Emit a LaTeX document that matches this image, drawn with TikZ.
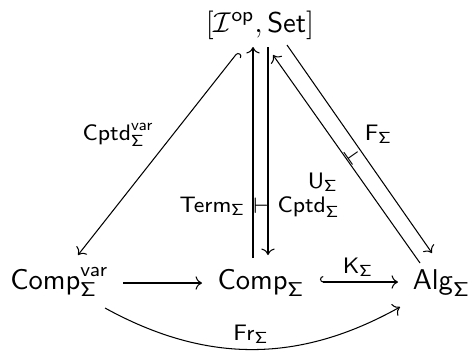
\documentclass[tikz,border=0pt]{standalone}
\usetikzlibrary{arrows.meta,calc}
\newcommand{\sfS}{\mathsf{\Sigma}}
\tikzset{
  obj/.style={anchor=base, inner sep=0pt, scale=1.1},
  lbl/.style={anchor=base, inner sep=0pt, font=\scriptsize, scale=1.23},
  arr/.style={-{Computer Modern Rightarrow}, line width=0.4pt},
  hk/.style={{Hooks[right]}-{Computer Modern Rightarrow}, line width=0.4pt},
}
\begin{document}
\begin{tikzpicture}[x=0.3846pt,y=-0.3846pt]
\useasboundingbox (0,0) rectangle (472,350);
% objects
\node[obj] (top) at (260,32) {$[\mathcal{I}^{\mathsf{op}},\mathsf{Set}]$};
\node[obj] (cv) at (59.5,289) {$\mathsf{Comp}^{\mathsf{var}}_{\sfS}$};
\node[obj] (c) at (261,289) {$\mathsf{Comp}_{\sfS}$};
\node[obj] (a) at (441.5,289) {$\mathsf{Alg}_{\sfS}$};
% Cptd^var
\draw[hk] ($(top.base)+(-22,20)$) -- ($(cv.base)+(18.5,-34)$);
\node[lbl] (lcv) at (118.5,140) {$\mathsf{Cptd}^{\mathsf{var}}_{\sfS}$};
% vertical pair
\draw[arr] ($(c.base)+(-8,-31)$) -- ($(top.base)+(-7,15)$);
\draw[arr] ($(top.base)+(8,15)$) -- ($(c.base)+(7,-34)$);
\node[inner sep=0pt, font=\scriptsize, scale=1.23] (adj1) at (261,206) {$\vdash$};
\node[lbl, anchor=base east] (lterm) at (246,212) {$\mathsf{Term}_{\sfS}$};
\node[lbl, anchor=base west] (lcptd) at (277,212) {$\mathsf{Cptd}_{\sfS}$};
% diagonal pair
\draw[arr] ($(top.base)+(27,13)$) -- ($(a.base)+(-9.5,-36)$);
\draw[arr] ($(a.base)+(-21.5,-26)$) -- ($(top.base)+(13,23)$);
\node[inner sep=0pt, font=\scriptsize, scale=1.23, rotate=35] (adj2) at (353,156) {$\vdash$};
\node[lbl] (lu) at (323,188) {$\mathsf{U}_{\sfS}$};
\node[lbl] (lf) at (378.5,140) {$\mathsf{F}_{\sfS}$};
% bottom row
\draw[arr] ($(cv.base)+(63.5,-6)$) -- ($(c.base)+(-59,-6)$);
\draw[hk] ($(c.base)+(59,-7)$) -- ($(a.base)+(-43.5,-7)$);
\node[lbl] (lk) at (358,273) {$\mathsf{K}_{\sfS}$};
\draw[arr] ($(cv.base)+(45.5,19)$) to[bend right=29] ($(a.base)+(-41.5,18)$);
\node[lbl] (lfr) at (251,340) {$\mathsf{Fr}_{\sfS}$};
\end{tikzpicture}
\end{document}
